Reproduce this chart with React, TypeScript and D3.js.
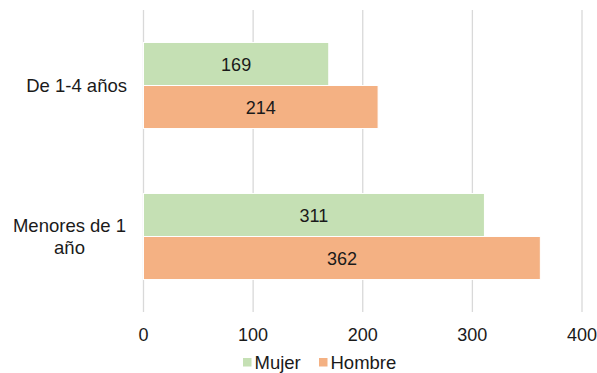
import React from "react";
import * as d3 from "d3";

const categories = ["De 1-4 años", "Menores de 1 año"];
const categoryLines = [["De 1-4 años"], ["Menores de 1", "año"]];
const seriesNames = ["Mujer", "Hombre"];
const mujer = [169, 311];
const hombre = [214, 362];
const xTicks = [0, 100, 200, 300, 400];
const colors = ["#C5E0B4", "#F4B183"];

export default function App() {
  const W = 597, H = 373;
  const x = d3.scaleLinear().domain([0, 400]).range([143.5, 582]);
  const y = d3.scaleBand().domain(categories).range([10, 312]).paddingInner(0.43).paddingOuter(0.215);
  const sub = d3.scaleBand().domain(seriesNames).range([0, y.bandwidth()]);
  const values = [mujer, hombre];
  const font = "Liberation Sans, Arial, sans-serif";
  const fs = 18.5;
  const tc = "#1a1a1a";
  return (
    <svg width={W} height={H} style={{ position: "absolute", left: 0, top: 0 }} fontFamily={font}>
      <rect width={W} height={H} fill="#fff" />
      {xTicks.map((t) => (
        <line key={t} x1={x(t)} x2={x(t)} y1={10} y2={312} stroke="#d9d9d9" strokeWidth={1.3} />
      ))}
      {categories.map((c, i) =>
        seriesNames.map((s, j) => {
          const v = values[j][i];
          const by = (y(c) as number) + (sub(s) as number);
          return (
            <g key={c + s}>
              <rect x={x(0)} y={by} width={x(v) - x(0)} height={sub.bandwidth()} fill={colors[j]} stroke="#fff" strokeWidth={1} />
              <text x={(x(0) + x(v)) / 2} y={by + sub.bandwidth() / 2 + 1} dy="0.35em" textAnchor="middle" fontSize={18} fill={tc}>
                {v}
              </text>
            </g>
          );
        })
      )}
      {categories.map((c, i) => {
        const lines = categoryLines[i];
        const cy = (y(c) as number) + y.bandwidth() / 2;
        const lh = 22;
        return lines.map((l, k) => (
          <text
            key={c + k}
            x={lines.length > 1 ? 69.5 : 127}
            y={cy + (k - (lines.length - 1) / 2) * lh}
            dy="0.35em"
            textAnchor={lines.length > 1 ? "middle" : "end"}
            fontSize={fs}
            fill={tc}
          >
            {l}
          </text>
        ));
      })}
      {xTicks.map((t) => (
        <text key={"t" + t} x={x(t)} y={334.5} dy="0.35em" textAnchor="middle" fontSize={18} fill={tc}>
          {t}
        </text>
      ))}
      {seriesNames.map((s, j) => {
        const lx = [243, 319][j];
        return (
          <g key={s}>
            <rect x={lx} y={358} width={8.5} height={8.5} fill={colors[j]} />
            <text x={lx + 11.5} y={362.5} dy="0.35em" fontSize={fs} fill={tc}>
              {s}
            </text>
          </g>
        );
      })}
    </svg>
  );
}
